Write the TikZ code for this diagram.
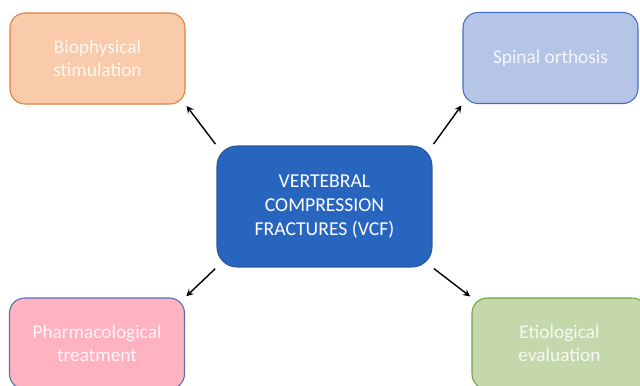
\documentclass[tikz,border=0pt]{standalone}
\usepackage{fontspec}
\setmainfont{Carlito}
\usepackage{tikz}
\definecolor{VCFBlue}{RGB}{40, 101, 191}
\definecolor{VCFEdge}{RGB}{47, 85, 151}
\definecolor{PeachFill}{RGB}{250, 203, 170}
\definecolor{PeachEdge}{RGB}{225, 125, 55}
\definecolor{LilacFill}{RGB}{180, 197, 231}
\definecolor{LilacEdge}{RGB}{68, 110, 190}
\definecolor{PinkFill}{RGB}{255, 178, 192}
\definecolor{PinkEdge}{RGB}{90, 110, 170}
\definecolor{SageFill}{RGB}{197, 216, 172}
\definecolor{SageEdge}{RGB}{112, 163, 75}

\begin{document}
\begin{tikzpicture}[>=stealth, x=0.02cm, y=-0.02cm,
    box/.style={draw, line width=0.6pt, rounded corners=0.3cm, align=center,
      minimum width=3.5cm, minimum height=1.82cm,
      font=\fontsize{11}{13.2}\selectfont},
    link/.style={->, line width=0.8pt, shorten <=1pt, shorten >=1pt}]
          \clip (0,0) rectangle (640,386);
          % centre
          \node[box, fill=VCFBlue, draw=VCFEdge, text=white, rounded corners=0.4cm,
            minimum width=4.3cm, minimum height=2.42cm,
            font=\fontsize{11.2}{13.5}\selectfont] (vcf) at (324.5,206.5)
            {VERTEBRAL\\COMPRESSION\\FRACTURES (VCF)};
          % outer boxes
          \node[box, fill=PeachFill, draw=PeachEdge, text=white!85!PeachFill] (bio) at (97.5,58.5) {Biophysical\\stimulation};
          \node[box, fill=LilacFill, draw=LilacEdge, text=white!85!LilacFill] (orth) at (550.5,58) {Spinal orthosis};
          \node[box, fill=PinkFill, draw=PinkEdge, text=white!85!PinkFill] (pharm) at (97,343.5) {Pharmacological\\treatment};
          \node[box, fill=SageFill, draw=SageEdge, text=white!85!SageFill] (etio) at (559.5,343.5) {Etiological\\evaluation};
          % arrows
          \draw[link] (vcf.north west) -- (bio.south east);
          \draw[link] (vcf.north east) -- (orth.south west);
          \draw[link] (vcf.south west) -- (pharm.north east);
          \draw[link] (vcf.south east) -- (etio.north west);
        \end{tikzpicture}
\end{document}
